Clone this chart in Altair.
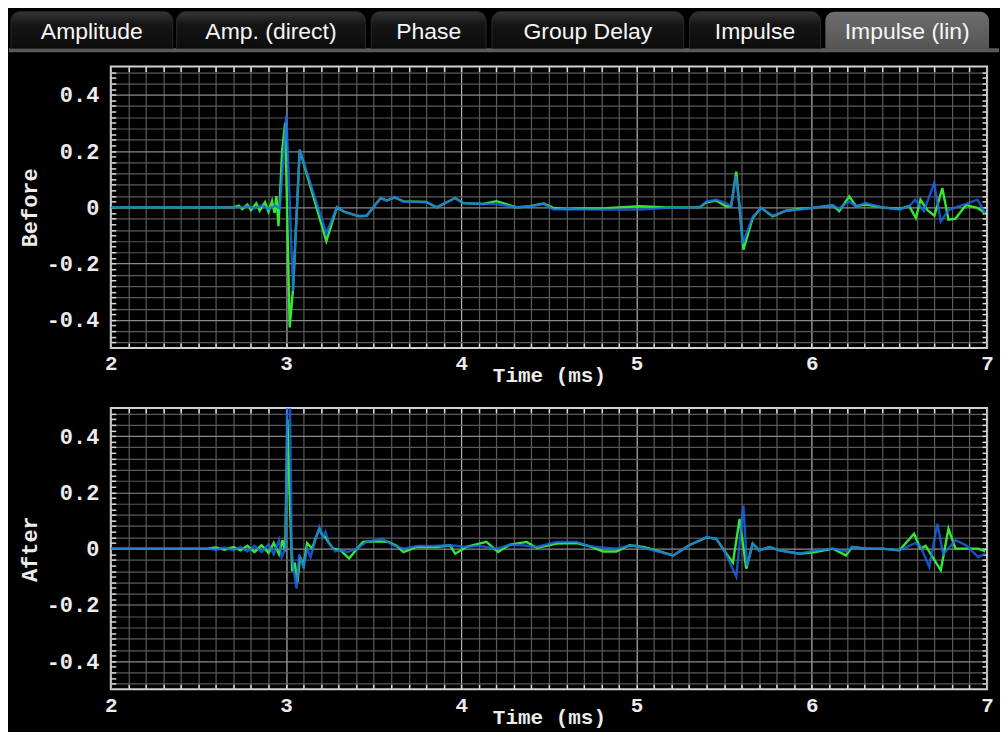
import altair as alt
import pandas as pd

# ---------------- data ----------------
TABS = ["Amplitude", "Amp. (direct)", "Phase", "Group Delay", "Impulse", "Impulse (lin)"]
ACTIVE_TAB = "Impulse (lin)"
PANEL_TITLES = ["Before", "After"]
X_TITLE = "Time (ms)"

before_green_t = [2.0, 2.70, 2.73, 2.75, 2.78, 2.80, 2.83, 2.85, 2.88, 2.90, 2.92, 2.935, 2.945, 2.957, 2.978, 2.995,
                  3.021, 3.040, 3.078, 3.230, 3.290, 3.330, 3.385, 3.420, 3.460, 3.540, 3.575, 3.620, 3.670, 3.800,
                  3.860, 3.920, 3.965, 4.010, 4.126, 4.200, 4.316, 4.390, 4.470, 4.525, 4.600, 4.700, 4.800, 4.900,
                  5.020, 5.170, 5.360, 5.400, 5.455, 5.510, 5.540, 5.569, 5.588, 5.610, 5.663, 5.710, 5.777, 5.853,
                  5.930, 6.005, 6.120, 6.157, 6.214, 6.252, 6.308, 6.404, 6.499, 6.556, 6.594, 6.620, 6.660, 6.700,
                  6.745, 6.780, 6.820, 6.880, 6.945, 6.990]
before_green_v = [0, 0, 0.006, -0.006, 0.010, -0.010, 0.014, -0.012, 0.018, -0.016, 0.022, -0.020, 0.040, -0.067,
                  0.204, 0.300, -0.427, -0.290, 0.204, -0.120, 0.000, -0.015, -0.026, -0.032, -0.030, 0.033, 0.024,
                  0.035, 0.021, 0.019, 0.000, 0.019, 0.033, 0.015, 0.012, 0.022, 0.000, 0.004, 0.014, -0.002, -0.006,
                  -0.004, -0.004, 0.000, 0.004, 0.000, 0.000, 0.018, 0.024, 0.004, 0.004, 0.127, -0.002, -0.150,
                  -0.038, -0.002, -0.032, -0.012, -0.006, -0.002, 0.007, -0.014, 0.039, 0.004, 0.010, 0.000, -0.006,
                  0.004, -0.038, 0.027, -0.010, -0.030, 0.068, -0.044, -0.040, 0.008, -0.002, -0.020]

before_blue_t = [2.0, 2.75, 2.78, 2.82, 2.86, 2.90, 2.94, 2.965, 3.002, 3.040, 3.078, 3.230, 3.290, 3.330, 3.385,
                 3.420, 3.460, 3.540, 3.575, 3.620, 3.670, 3.800, 3.860, 3.920, 3.965, 4.010, 4.126, 4.200, 4.316,
                 4.390, 4.470, 4.525, 4.600, 4.700, 4.800, 4.900, 5.020, 5.170, 5.360, 5.400, 5.455, 5.510, 5.540,
                 5.567, 5.588, 5.605, 5.663, 5.710, 5.777, 5.853, 5.930, 6.005, 6.120, 6.157, 6.210, 6.252, 6.308,
                 6.404, 6.499, 6.556, 6.590, 6.640, 6.698, 6.736, 6.780, 6.840, 6.880, 6.945, 6.990]
before_blue_v = [0, 0, 0.004, -0.004, 0.006, -0.006, 0.006, -0.004, 0.328, -0.297, 0.204, -0.092, 0.000, -0.015,
                 -0.026, -0.030, -0.030, 0.033, 0.024, 0.037, 0.020, 0.019, 0.000, 0.019, 0.033, 0.015, 0.012, 0.012,
                 0.000, 0.004, 0.012, -0.008, -0.006, -0.008, -0.008, -0.008, -0.008, -0.002, 0.000, 0.021, 0.027,
                 0.015, 0.004, 0.110, 0.000, -0.130, -0.034, -0.002, -0.030, -0.012, -0.008, -0.002, 0.007, -0.005,
                 0.021, 0.004, 0.015, 0.000, -0.008, 0.004, 0.027, -0.014, 0.086, -0.050, -0.010, 0.004, 0.012,
                 0.027, -0.020]

after_green_t = [2.0, 2.55, 2.60, 2.65, 2.70, 2.74, 2.78, 2.82, 2.86, 2.90, 2.93, 2.96, 2.98, 2.995, 3.008, 3.020,
                 3.035, 3.050, 3.065, 3.080, 3.100, 3.120, 3.150, 3.167, 3.190, 3.205, 3.225, 3.245, 3.270, 3.310,
                 3.360, 3.405, 3.440, 3.500, 3.585, 3.630, 3.670, 3.746, 3.860, 3.936, 3.965, 4.030, 4.143, 4.210,
                 4.278, 4.373, 4.430, 4.544, 4.657, 4.730, 4.810, 4.885, 4.960, 5.040, 5.210, 5.300, 5.400, 5.455,
                 5.510, 5.550, 5.588, 5.626, 5.663, 5.700, 5.760, 5.815, 5.930, 6.020, 6.120, 6.195, 6.230, 6.310,
                 6.400, 6.500, 6.584, 6.620, 6.650, 6.736, 6.780, 6.820, 6.880, 6.950, 6.990]
after_green_v = [0, 0, 0.004, -0.004, 0.006, -0.006, 0.010, -0.012, 0.012, -0.015, 0.020, -0.020, 0.030, -0.010,
                 0.460, 0.200, -0.080, -0.050, -0.120, -0.030, -0.060, 0.020, 0.000, 0.035, 0.070, 0.050, 0.040,
                 0.020, 0.000, -0.005, -0.035, 0.000, 0.024, 0.026, 0.024, 0.010, -0.012, 0.006, 0.006, 0.012,
                 -0.018, 0.006, 0.024, -0.012, 0.014, 0.024, 0.002, 0.018, 0.020, 0.009, -0.010, -0.010, 0.012,
                 0.006, -0.024, 0.012, 0.040, 0.035, -0.015, -0.050, 0.106, -0.071, 0.018, -0.006, 0.006, -0.006,
                 -0.018, -0.012, 0.000, -0.024, 0.006, 0.000, 0.000, -0.006, 0.053, 0.000, 0.010, -0.077, 0.071,
                 0.000, 0.000, 0.000, -0.010]

after_blue_t = [2.0, 2.55, 2.60, 2.65, 2.70, 2.74, 2.78, 2.82, 2.86, 2.90, 2.93, 2.96, 2.975, 2.998, 3.014, 3.032,
                3.040, 3.060, 3.075, 3.100, 3.120, 3.140, 3.167, 3.190, 3.210, 3.225, 3.245, 3.280, 3.310, 3.350,
                3.405, 3.460, 3.550, 3.613, 3.670, 3.750, 3.840, 3.936, 4.030, 4.100, 4.200, 4.278, 4.350, 4.430,
                4.544, 4.657, 4.730, 4.800, 4.885, 4.980, 5.056, 5.210, 5.300, 5.400, 5.455, 5.510, 5.569, 5.610,
                5.630, 5.663, 5.700, 5.760, 5.815, 5.930, 6.020, 6.120, 6.200, 6.230, 6.310, 6.400, 6.500, 6.590,
                6.620, 6.670, 6.717, 6.750, 6.820, 6.880, 6.950, 6.990]
after_blue_v = [0, 0, -0.004, 0.004, -0.006, 0.006, -0.010, 0.010, -0.012, 0.015, -0.020, 0.030, -0.030, 0.000,
                1.000, 0.000, -0.060, -0.142, -0.020, -0.070, 0.000, -0.030, 0.030, 0.077, 0.040, 0.060, 0.020,
                -0.010, -0.005, -0.012, 0.000, 0.024, 0.035, 0.012, 0.000, 0.010, 0.010, 0.012, 0.006, 0.010, 0.000,
                0.014, 0.012, 0.006, 0.024, 0.024, 0.009, 0.004, 0.000, 0.012, 0.000, -0.024, 0.012, 0.041, 0.035,
                -0.018, -0.100, 0.153, -0.060, 0.018, -0.006, 0.006, -0.006, -0.018, -0.006, 0.000, -0.010, 0.006,
                0.000, 0.000, -0.006, 0.020, 0.010, -0.065, 0.088, -0.020, 0.030, 0.012, -0.030, -0.018]

# ---------------- layout / style constants ----------------
TAB_LEFT = [10, 176, 371, 492, 690, 826]
TAB_RIGHT = [172, 365, 486, 684, 821, 990]
W, H = 878, 282
GREEN, BLUE = "#36e636", "#1a68f0"
MONO, SANS = "Liberation Mono", "Liberation Sans"
FG = "#ececec"

grid_x = [round(2 + 0.1 * i, 2) for i in range(51)]
grid_y = [round(-0.48 + 0.04 * i, 2) for i in range(25)]
edge_x = [round(2 + 0.1 * i, 2) for i in range(1, 50)]
edge_y = [round(-0.5 + 0.02 * i, 2) for i in range(1, 50)]

MAJOR_X = "abs(datum.value - round(datum.value)) < 0.000001"
MAJOR_Y = "abs(datum.value * 5 - round(datum.value * 5)) < 0.000001"

xs = alt.Scale(domain=[2, 7], nice=False, zero=False)
ys = alt.Scale(domain=[-0.5, 0.5], nice=False, zero=False)


def main_axes(title):
    ax = alt.Axis(orient="bottom", values=grid_x, grid=True,
                  gridColor={"condition": {"test": MAJOR_X, "value": "#b4b4b4"}, "value": "#5a5a5a"},
                  gridWidth=1.2, domain=False, ticks=False, tickSize=0,
                  labelExpr=f"{MAJOR_X} ? format(datum.value, 'd') : ''",
                  labelOverlap=False, labelFlush=False, labelFont=MONO, labelFontSize=21,
                  labelFontWeight="bold", labelColor=FG, labelPadding=5,
                  title=X_TITLE, titleFont=MONO, titleFontSize=21, titleFontWeight="bold",
                  titleColor=FG, titleX=W / 2, titleY=17, titleBaseline="top", titleAlign="center")
    ay = alt.Axis(orient="left", values=grid_y, grid=True,
                  gridColor={"condition": {"test": MAJOR_Y, "value": "#8a8a8a"}, "value": "#5a5a5a"},
                  gridWidth=1.2, domain=False, ticks=False, tickSize=0,
                  labelExpr=(f"{MAJOR_Y} ? (abs(datum.value) < 0.000001 ? '0' : "
                             "(datum.value < 0 ? '-' : '') + format(abs(datum.value), '.1f')) : ''"),
                  labelOverlap=False, labelFlush=False, labelFont=MONO, labelFontSize=22,
                  labelFontWeight="bold", labelColor=FG, labelPadding=12, labelBaseline="middle",
                  title=title, titleFont=MONO, titleFontSize=22, titleFontWeight="bold",
                  titleColor=FG, titleX=-81, titleY=H / 2, titleAngle=270,
                  titleAlign="center", titleBaseline="middle")
    return ax, ay


def edge_axis(orient, vals, offset):
    return alt.Axis(orient=orient, offset=offset, values=vals, labels=False, domain=False,
                    grid=False, ticks=True, tickSize=5, tickColor="#dcdcdc", tickWidth=1.5, title=None)


def panel_layers(title, gt, gv, bt, bv):
    dg = pd.DataFrame({"t": gt, "v": gv})
    db = pd.DataFrame({"t": bt, "v": bv})
    ax, ay = main_axes(title)
    green = alt.Chart(dg).mark_line(color=GREEN, strokeWidth=2.4, clip=True).encode(
        x=alt.X("t:Q", scale=xs, axis=ax), y=alt.Y("v:Q", scale=ys, axis=ay))
    blue = alt.Chart(db).mark_line(color=BLUE, strokeWidth=2.4, opacity=0.8, clip=True).encode(
        x=alt.X("t:Q", scale=xs, axis=None), y=alt.Y("v:Q", scale=ys, axis=None))
    ticks_a = alt.Chart(dg).mark_point(opacity=0).encode(
        x=alt.X("t:Q", scale=xs, axis=edge_axis("top", edge_x, -H)),
        y=alt.Y("v:Q", scale=ys, axis=edge_axis("right", edge_y, -W)))
    ticks_b = alt.Chart(dg).mark_point(opacity=0).encode(
        x=alt.X("t:Q", scale=xs, axis=edge_axis("bottom", edge_x, -H)),
        y=alt.Y("v:Q", scale=ys, axis=edge_axis("left", edge_y, -W)))
    return [green, blue, ticks_a, ticks_b]


# ---------------- tab strip (drawn above the first panel) ----------------
tab_df = pd.DataFrame({"label": TABS, "x0": TAB_LEFT, "x1": TAB_RIGHT})
tab_df["active"] = tab_df["label"] == ACTIVE_TAB
tab_df["y0"] = 10
tab_df["y1"] = 47
tab_df["ty"] = 30
strip_df = pd.DataFrame({"x0": [8], "x1": [1000], "y0": [8], "y1": [50], "b0": [46.5], "b1": [50.5]})

tx = alt.Scale(domain=[0, 1000], range=[-110, 890])
ty = alt.Scale(domain=[8, 50], range=[-57, -15])

strip_bg = alt.Chart(strip_df).mark_rect(color="#000000").encode(
    x=alt.X("x0:Q", scale=tx, axis=None), x2="x1",
    y=alt.Y("y0:Q", scale=ty, axis=None), y2="y1")
strip_bar = alt.Chart(strip_df).mark_rect(color="#5a5a5a").encode(
    x=alt.X("x0:Q", scale=tx, axis=None), x2="x1",
    y=alt.Y("b0:Q", scale=ty, axis=None), y2="b1")
inactive_fill = alt.Gradient(gradient="linear", x1=0, x2=0, y1=0, y2=1,
                             stops=[alt.GradientStop(color="#353535", offset=0),
                                    alt.GradientStop(color="#151515", offset=0.35),
                                    alt.GradientStop(color="#0c0c0c", offset=1)])
active_fill = alt.Gradient(gradient="linear", x1=0, x2=0, y1=0, y2=1,
                           stops=[alt.GradientStop(color="#6e6e6e", offset=0),
                                  alt.GradientStop(color="#555555", offset=1)])
tabs_inactive = alt.Chart(tab_df).transform_filter("!datum.active").mark_rect(
    fill=inactive_fill, stroke="#2a2a2a", strokeWidth=1,
    cornerRadiusTopLeft=9, cornerRadiusTopRight=9).encode(
    x=alt.X("x0:Q", scale=tx, axis=None), x2="x1",
    y=alt.Y("y0:Q", scale=ty, axis=None), y2="y1")
tabs_active = alt.Chart(tab_df).transform_filter("datum.active").mark_rect(
    fill=active_fill, cornerRadiusTopLeft=9, cornerRadiusTopRight=9).encode(
    x=alt.X("x0:Q", scale=tx, axis=None), x2="x1",
    y=alt.Y("y0:Q", scale=ty, axis=None), y2="y1")
tab_text = alt.Chart(tab_df).transform_calculate(xc="(datum.x0 + datum.x1) / 2").mark_text(
    font=SANS, fontSize=23, color="#f6f6f6", align="center", baseline="middle").encode(
    x=alt.X("xc:Q", scale=tx, axis=None),
    y=alt.Y("ty:Q", scale=ty, axis=None),
    text="label:N")

top = alt.layer(strip_bg, strip_bar, tabs_inactive, tabs_active, tab_text,
                *panel_layers(PANEL_TITLES[0], before_green_t, before_green_v, before_blue_t, before_blue_v)
                ).resolve_scale(x="independent", y="independent").properties(width=W, height=H)

bottom = alt.layer(*panel_layers(PANEL_TITLES[1], after_green_t, after_green_v, after_blue_t, after_blue_v)
                   ).resolve_axis(x="independent", y="independent").properties(width=W, height=H)

chart = alt.vconcat(top, bottom, spacing=60, bounds="flush").properties(
    padding={"left": 0, "top": 0, "right": 0, "bottom": 3}, background="#000000"
).configure_view(stroke="#d2d2d2", strokeWidth=2)

chart.save("out.html", embed_options={"renderer": "svg", "actions": False})
